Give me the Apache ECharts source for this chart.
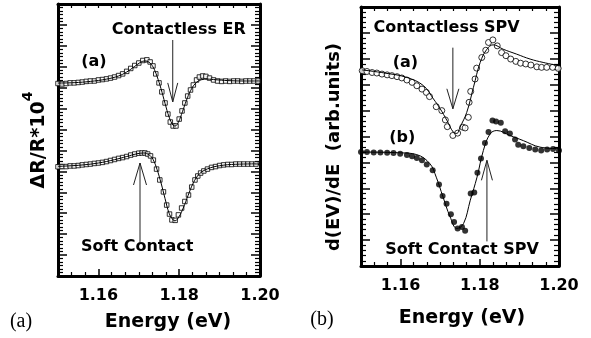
<!DOCTYPE html>
<html><head><meta charset="utf-8">
<script src="https://cdn.jsdelivr.net/npm/echarts@6/dist/echarts.min.js"></script>
<style>html,body{margin:0;padding:0;background:#fff}#c{width:591px;height:338px}</style>
</head><body><div id="c"></div>
<script>
// ---------- data (Energy in eV, signal in arbitrary units) ----------
const erContactlessData = [[1.1500,9.20],[1.1510,9.18],[1.1520,9.20],[1.1530,9.23],[1.1540,9.23],[1.1550,9.25],[1.1560,9.27],[1.1570,9.30],[1.1580,9.32],[1.1590,9.32],[1.1600,9.37],[1.1610,9.39],[1.1620,9.42],[1.1630,9.46],[1.1640,9.51],[1.1650,9.58],[1.1660,9.66],[1.1670,9.78],[1.1680,9.92],[1.1690,10.06],[1.1700,10.18],[1.1710,10.30],[1.1720,10.33],[1.1728,10.23],[1.1735,10.04],[1.1742,9.66],[1.1750,9.23],[1.1757,8.80],[1.1765,8.27],[1.1772,7.74],[1.1778,7.36],[1.1785,7.17],[1.1792,7.17],[1.1800,7.50],[1.1807,7.89],[1.1814,8.27],[1.1821,8.60],[1.1828,8.89],[1.1835,9.13],[1.1843,9.37],[1.1850,9.51],[1.1858,9.56],[1.1866,9.54],[1.1875,9.46],[1.1885,9.37],[1.1895,9.32],[1.1905,9.30],[1.1915,9.32],[1.1925,9.30],[1.1935,9.32],[1.1945,9.32],[1.1955,9.30],[1.1965,9.32],[1.1975,9.32],[1.1985,9.32],[1.1995,9.32]];
const erContactlessFit = [[1.150,9.22],[1.154,9.24],[1.158,9.30],[1.162,9.41],[1.165,9.56],[1.167,9.75],[1.169,10.02],[1.1705,10.22],[1.1715,10.28],[1.1725,10.22],[1.1735,10.0],[1.1745,9.55],[1.1755,8.95],[1.1765,8.25],[1.1775,7.6],[1.1785,7.2],[1.179,7.17],[1.1798,7.35],[1.1808,7.85],[1.1818,8.4],[1.1828,8.85],[1.184,9.2],[1.1855,9.38],[1.187,9.41],[1.189,9.38],[1.192,9.34],[1.196,9.32],[1.200,9.32]];
const erSoftData = [[1.1500,5.22],[1.1510,5.23],[1.1520,5.23],[1.1530,5.26],[1.1540,5.26],[1.1550,5.28],[1.1560,5.31],[1.1570,5.33],[1.1580,5.35],[1.1590,5.38],[1.1600,5.40],[1.1610,5.43],[1.1620,5.47],[1.1630,5.52],[1.1640,5.57],[1.1650,5.62],[1.1660,5.66],[1.1670,5.71],[1.1680,5.78],[1.1690,5.83],[1.1700,5.87],[1.1708,5.88],[1.1715,5.88],[1.1722,5.83],[1.1729,5.74],[1.1736,5.54],[1.1744,5.11],[1.1752,4.59],[1.1761,4.02],[1.1769,3.39],[1.1776,2.96],[1.1782,2.68],[1.1790,2.66],[1.1798,2.92],[1.1806,3.25],[1.1814,3.56],[1.1823,3.87],[1.1831,4.25],[1.1839,4.59],[1.1846,4.78],[1.1853,4.92],[1.1861,5.02],[1.1870,5.11],[1.1880,5.19],[1.1890,5.23],[1.1900,5.28],[1.1910,5.31],[1.1920,5.33],[1.1930,5.33],[1.1940,5.35],[1.1950,5.35],[1.1960,5.35],[1.1970,5.35],[1.1980,5.35],[1.1990,5.35]];
const erSoftFit = [[1.150,5.24],[1.155,5.29],[1.160,5.40],[1.164,5.56],[1.167,5.71],[1.1695,5.84],[1.1712,5.88],[1.1725,5.80],[1.1735,5.58],[1.1745,5.10],[1.1755,4.45],[1.1765,3.7],[1.1775,3.0],[1.1785,2.68],[1.179,2.64],[1.180,2.85],[1.181,3.25],[1.1822,3.85],[1.1835,4.45],[1.185,4.88],[1.187,5.12],[1.190,5.27],[1.194,5.34],[1.200,5.36]];
const spvContactlessData = [[1.1503,7.54],[1.1515,7.51],[1.1528,7.47],[1.1540,7.45],[1.1553,7.41],[1.1566,7.38],[1.1578,7.35],[1.1591,7.31],[1.1603,7.26],[1.1616,7.18],[1.1629,7.09],[1.1641,6.96],[1.1654,6.83],[1.1665,6.70],[1.1673,6.54],[1.1690,6.15],[1.1704,6.00],[1.1713,5.64],[1.1718,5.38],[1.1732,5.04],[1.1744,5.13],[1.1757,5.36],[1.1763,5.33],[1.1771,5.74],[1.1773,6.32],[1.1777,6.74],[1.1788,7.22],[1.1792,7.64],[1.1805,8.05],[1.1815,8.33],[1.1822,8.63],[1.1833,8.73],[1.1844,8.50],[1.1855,8.24],[1.1866,8.12],[1.1878,7.99],[1.1891,7.90],[1.1903,7.83],[1.1916,7.80],[1.1929,7.76],[1.1944,7.69],[1.1956,7.67],[1.1969,7.67],[1.1984,7.67],[1.1998,7.63]];
const spvContactlessFit = [[1.1503,7.57],[1.1560,7.45],[1.1616,7.28],[1.1658,6.96],[1.1683,6.45],[1.1700,6.07],[1.1717,5.62],[1.1733,5.17],[1.1742,5.12],[1.1750,5.36],[1.1767,5.93],[1.1784,6.90],[1.1801,7.86],[1.1818,8.37],[1.1834,8.54],[1.1859,8.37],[1.1893,8.18],[1.1927,7.99],[1.1960,7.86],[1.2000,7.73]];
const spvSoftData = [[1.1500,4.40],[1.1515,4.40],[1.1532,4.38],[1.1549,4.38],[1.1566,4.37],[1.1582,4.36],[1.1599,4.33],[1.1616,4.29],[1.1629,4.24],[1.1641,4.17],[1.1654,4.08],[1.1666,3.92],[1.1681,3.70],[1.1697,3.15],[1.1706,2.70],[1.1716,2.40],[1.1727,2.00],[1.1735,1.70],[1.1744,1.45],[1.1755,1.51],[1.1763,1.36],[1.1777,2.80],[1.1786,2.84],[1.1794,3.60],[1.1803,4.15],[1.1813,4.75],[1.1822,5.17],[1.1832,5.62],[1.1841,5.58],[1.1853,5.53],[1.1864,5.20],[1.1876,5.12],[1.1889,4.88],[1.1897,4.68],[1.1910,4.62],[1.1925,4.56],[1.1940,4.50],[1.1955,4.46],[1.1970,4.50],[1.1985,4.52],[1.2000,4.46]];
const spvSoftFit = [[1.1500,4.40],[1.1600,4.37],[1.1641,4.30],[1.1674,3.95],[1.1690,3.43],[1.1707,2.67],[1.1725,1.90],[1.1742,1.45],[1.1759,1.64],[1.1776,2.54],[1.1793,3.43],[1.1809,4.46],[1.1826,5.10],[1.1843,5.23],[1.1876,5.04],[1.1910,4.84],[1.1952,4.59],[1.2000,4.53]];

// ---------- ticks / labels ----------
const xLabelValues = [1.16, 1.18, 1.20];
const xMajorTicks = [1.16, 1.18];
const xMinorTicks = [1.1533,1.1567,1.1633,1.1667,1.17,1.1733,1.1767,1.1833,1.1867,1.19,1.1933,1.1967];
const xAllTicks = [1.1533,1.1567,1.16,1.1633,1.1667,1.17,1.1733,1.1767,1.18,1.1833,1.1867,1.19,1.1933,1.1967];

// ---------- annotations (data coordinates) ----------
const annotationTexts = [
  {grid:0, text:'Contactless ER', at:[1.1799, 11.76]},
  {grid:0, text:'(a)', at:[1.1589, 10.23]},
  {grid:0, text:'Soft Contact', at:[1.1696, 1.39]},
  {grid:1, text:'Contactless SPV', at:[1.1716, 9.2]},
  {grid:1, text:'(a)', at:[1.1612, 7.85]},
  {grid:1, text:'(b)', at:[1.1604, 4.96]},
  {grid:1, text:'Soft Contact SPV', at:[1.1755, 0.62]}
];
const annotationArrows = [
  {grid:0, from:[1.1784, 11.28], to:[1.1784, 8.32], wing:[5,19]},
  {grid:0, from:[1.1703, 1.58], to:[1.1703, 5.40], wing:[6.5,22]},
  {grid:1, from:[1.1732, 8.43], to:[1.1732, 6.07], wing:[6,20]},
  {grid:1, from:[1.1818, 0.95], to:[1.1818, 4.08], wing:[5.5,20]}
];

const FONT = 'DejaVu Sans';
function xAxes(gridIndex) {
  const base = {gridIndex, type:'value', min:1.15, max:1.20, splitLine:{show:false}, minorTick:{show:false}};
  return [
    Object.assign({}, base, {position:'bottom',
      axisLine:{show:true, onZero:false, lineStyle:{color:'#000', width:3}},
      axisTick:{show:true, inside:true, length:7, customValues:xMajorTicks, lineStyle:{color:'#000', width:1.5}},
      axisLabel:{show:true, customValues:xLabelValues, margin:12, color:'#000', fontFamily:FONT, fontWeight:'bold', fontSize:16,
        formatter:v => v.toFixed(2)}}),
    Object.assign({}, base, {position:'bottom',
      axisLine:{show:false, onZero:false},
      axisTick:{show:true, inside:true, length:4, customValues:xMinorTicks, lineStyle:{color:'#000', width:1.2}},
      axisLabel:{show:false}}),
    Object.assign({}, base, {position:'top',
      axisLine:{show:true, onZero:false, lineStyle:{color:'#000', width:3}},
      axisTick:{show:true, inside:true, length:4, customValues:xAllTicks, lineStyle:{color:'#000', width:1.2}},
      axisLabel:{show:false}})
  ];
}
function yAxes(gridIndex, max, minorSplit) {
  const mk = pos => ({gridIndex, type:'value', position:pos, min:0, max:max, interval:1,
    splitLine:{show:false},
    axisLine:{show:true, onZero:false, lineStyle:{color:'#000', width:3}},
    axisTick:{show:true, inside:true, length:9, lineStyle:{color:'#000', width:1.5}},
    minorTick:{show:true, splitNumber:minorSplit, length:5, lineStyle:{color:'#000', width:1.2}},
    axisLabel:{show:false}});
  return [mk('left'), mk('right')];
}

const lineStyle = {color:'#000', width:1};
const option = {
  animation:false,
  backgroundColor:'#fff',
  grid:[
    {left:58, right:331, top:4, bottom:62},
    {left:361, right:32, top:7, bottom:72}
  ],
  xAxis:[...xAxes(0), ...xAxes(1)],
  yAxis:[...yAxes(0, 13, 6), ...yAxes(1, 10, 5)],
  series:[
    {type:'scatter', xAxisIndex:0, yAxisIndex:0, data:erContactlessData, symbol:'rect', symbolSize:4.5,
      itemStyle:{color:'#fff', borderColor:'#000', borderWidth:1}},
    {type:'line', xAxisIndex:0, yAxisIndex:0, data:erContactlessFit, smooth:0.4, showSymbol:false, lineStyle, z:3},
    {type:'scatter', xAxisIndex:0, yAxisIndex:0, data:erSoftData, symbol:'rect', symbolSize:4.5,
      itemStyle:{color:'#fff', borderColor:'#000', borderWidth:1}},
    {type:'line', xAxisIndex:0, yAxisIndex:0, data:erSoftFit, smooth:0.4, showSymbol:false, lineStyle, z:3},
    {type:'scatter', xAxisIndex:3, yAxisIndex:2, data:spvContactlessData, symbol:'circle', symbolSize:6,
      itemStyle:{color:'#fff', borderColor:'#000', borderWidth:1}},
    {type:'line', xAxisIndex:3, yAxisIndex:2, data:spvContactlessFit, smooth:0.4, showSymbol:false, lineStyle, z:3},
    {type:'scatter', xAxisIndex:3, yAxisIndex:2, data:spvSoftData, symbol:'circle', symbolSize:6,
      itemStyle:{color:'#000', borderColor:'#000', borderWidth:0}},
    {type:'line', xAxisIndex:3, yAxisIndex:2, data:spvSoftFit, smooth:0.4, showSymbol:false, lineStyle, z:3}
  ]
};

const chart = echarts.init(document.getElementById('c'), null, {renderer:'canvas'});
chart.setOption(option);

function px(g, pt) {
  return chart.convertToPixel(g === 0 ? {xAxisIndex:0, yAxisIndex:0} : {xAxisIndex:3, yAxisIndex:2}, pt);
}
const graphics = [];
annotationTexts.forEach(a => {
  const p = px(a.grid, a.at);
  graphics.push({type:'text', x:p[0], y:p[1], z:10,
    style:{text:a.text, fill:'#000', font:'bold 16px "DejaVu Sans"', align:'center', verticalAlign:'middle'}});
});
annotationArrows.forEach(a => {
  const f = px(a.grid, a.from), t = px(a.grid, a.to);
  const dir = t[1] > f[1] ? -1 : 1; // wings go back toward the tail
  graphics.push({type:'line', z:10, shape:{x1:f[0], y1:f[1], x2:t[0], y2:t[1]}, style:{stroke:'#222', lineWidth:1}});
  graphics.push({type:'polyline', z:10, shape:{points:[[t[0]-a.wing[0], t[1]+dir*a.wing[1]], [t[0], t[1]], [t[0]+a.wing[0], t[1]+dir*a.wing[1]]]},
    style:{stroke:'#222', lineWidth:1, fill:null}});
});
// axis titles and panel captions
graphics.push(
  {type:'text', x:168, y:322, style:{text:'Energy (eV)', fill:'#000', font:'bold 19px "DejaVu Sans"', align:'center', verticalAlign:'middle'}},
  {type:'text', x:462, y:318, style:{text:'Energy (eV)', fill:'#000', font:'bold 19px "DejaVu Sans"', align:'center', verticalAlign:'middle'}},
  {type:'text', x:21, y:322, style:{text:'(a)', fill:'#000', font:'20px "Liberation Serif"', align:'center', verticalAlign:'middle'}},
  {type:'text', x:322, y:320, style:{text:'(b)', fill:'#000', font:'20px "Liberation Serif"', align:'center', verticalAlign:'middle'}},
  {type:'text', x:35, y:140, rotation:Math.PI/2, style:{text:'{a|ΔR/R*10}{s|4}', align:'center', verticalAlign:'middle',
     rich:{a:{fill:'#000', fontFamily:FONT, fontWeight:'bold', fontSize:19, lineHeight:28, verticalAlign:'bottom'},
           s:{fill:'#000', fontFamily:FONT, fontWeight:'bold', fontSize:14, lineHeight:28, verticalAlign:'top'}}}},
  {type:'text', x:334, y:147, rotation:Math.PI/2, style:{text:'d(EV)/dE  (arb.units)', fill:'#000', font:'bold 18px "DejaVu Sans"', align:'center', verticalAlign:'middle'}}
);
chart.setOption({graphic:graphics});
</script>
</body></html>
